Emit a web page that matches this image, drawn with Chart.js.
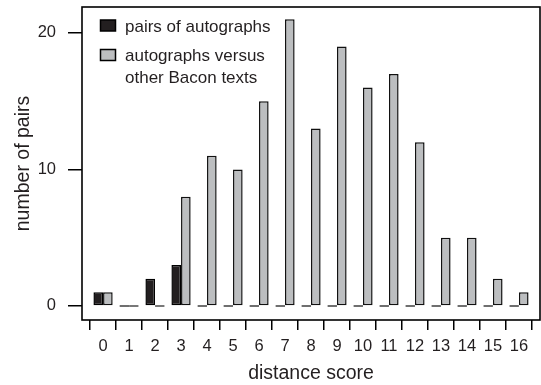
<!DOCTYPE html>
<html>
<head>
<meta charset="utf-8">
<script src="https://cdn.jsdelivr.net/npm/chart.js@4"></script>
<style>
html,body{margin:0;padding:0;background:#fff;}
#wrap{width:541px;height:385px;}
</style>
</head>
<body>
<div id="wrap"><canvas id="c" width="541" height="385"></canvas></div>
<script>
// distance scores 0..16
const scores = [0,1,2,3,4,5,6,7,8,9,10,11,12,13,14,15,16];
const autographPairs = [1,0,2,3,0,0,0,0,0,0,0,0,0,0,0,0,0];
const versusOther = [1,0,0,8,11,10,15,21,13,19,16,17,12,5,5,2,1];
const yTicks = [0,10,20];

const legendItems = [
  {text:["pairs of autographs"], color:"#231f20"},
  {text:["autographs versus","other Bacon texts"], color:"#bcbec0"}
];

const FONT = "'Liberation Sans', Arial, Helvetica, sans-serif";

// frame round the plot + legend in the top-left corner
const framePlugin = {
  id:"frame",
  afterDraw(chart){
    const a = chart.chartArea, ctx = chart.ctx;
    ctx.save();
    ctx.strokeStyle = "#000";
    ctx.lineWidth = 1.6;
    ctx.strokeRect(a.left, a.top, a.right - a.left, a.bottom - a.top);

    let y = a.top + 19;
    ctx.font = "17px " + FONT;
    ctx.textBaseline = "middle";
    legendItems.forEach(item=>{
      ctx.fillStyle = item.color;
      ctx.fillRect(a.left + 18.5, y - 6, 15, 11);
      ctx.lineWidth = 1.5;
      ctx.strokeRect(a.left + 18.5, y - 6, 15, 11);
      ctx.fillStyle = "#231f20";
      item.text.forEach((t,i)=>{
        ctx.fillText(t, a.left + 43, y + 1 + i*21.5);
      });
      y += 21.5*item.text.length + 8;
    });
    ctx.restore();
  }
};

new Chart(document.getElementById("c"),{
  type:"bar",
  data:{
    labels:scores,
    datasets:[
      {label:"pairs of autographs", data:autographPairs, backgroundColor:"#231f20", borderColor:"#000", borderWidth:1.5},
      {label:"autographs versus other Bacon texts", data:versusOther, backgroundColor:"#bcbec0", borderColor:"#111", borderWidth:1.5}
    ]
  },
  options:{
    responsive:false,
    animation:false,
    layout:{padding:{top:7,right:1,left:0,bottom:0}},
    datasets:{bar:{categoryPercentage:0.74, barPercentage:1, minBarLength:1.5, borderSkipped:false}},
    plugins:{legend:{display:false}, tooltip:{enabled:false}},
    scales:{
      x:{
        type:"linear",
        min:-0.81, max:16.81,
        offset:false,
        afterBuildTicks(s){ s.ticks = scores.map(v=>({value:v})); },
        afterFit(s){ s.height = 65; s.paddingLeft = 0; s.paddingRight = 0; },
        grid:{drawOnChartArea:false, drawTicks:true, tickLength:10, color:"#000", lineWidth:1.5},
        border:{display:false},
        ticks:{color:"#231f20", font:{family:FONT, size:16.5}, padding:7, maxRotation:0, autoSkip:false},
        title:{display:true, text:"distance score", color:"#231f20", font:{family:FONT, size:19.5}, padding:{top:0,bottom:0}}
      },
      y:{
        min:-1.03, max:21.9,
        afterBuildTicks(s){ s.ticks = yTicks.map(v=>({value:v})); },
        afterFit(s){ s.width = 82; s.paddingTop = 0; s.paddingBottom = 0; },
        grid:{drawOnChartArea:false, drawTicks:true, tickLength:14, color:"#000", lineWidth:1.5},
        border:{display:false},
        ticks:{color:"#231f20", font:{family:FONT, size:16.5}, padding:12},
        title:{display:true, text:"number of pairs", color:"#231f20", font:{family:FONT, size:19.5}, padding:{top:12,bottom:0}}
      }
    }
  },
  plugins:[framePlugin]
});
</script>
</body>
</html>
